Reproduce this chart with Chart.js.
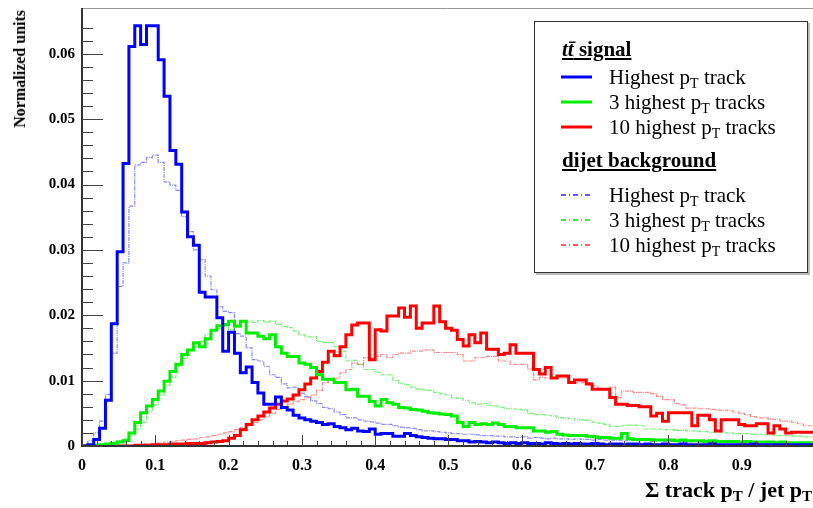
<!DOCTYPE html>
<html>
<head>
<meta charset="utf-8">
<script src="https://cdn.jsdelivr.net/npm/chart.js@4"></script>
<style>
  body { margin: 0; background: #fff; }
  #wrap { position: relative; width: 813px; height: 508px; overflow: hidden; font-family: 'Liberation Serif', 'Times New Roman', serif; color: #000; }
  #legend { position: absolute; left: 534px; top: 21px; width: 272px; height: 250px; border: 1px solid #333; box-shadow: 2px 2px 0 #bbb; background: #fff; }
  .row { position: absolute; left: 0; height: 24px; line-height: 24px; display: flex; align-items: center; font-size: 21px; white-space: nowrap; }
  .row svg { margin-left: 26px; margin-right: 17px; }
  .head { position: absolute; left: 27px; height: 24px; line-height: 24px; font-size: 21px; font-weight: bold; text-decoration: underline; white-space: nowrap; }
  sub { font-size: 14px; vertical-align: -4px; line-height: 0; }
  #xtitle { position: absolute; right: 1px; top: 477px; font-size: 22px; font-weight: bold; white-space: nowrap; }
  #xtitle sub { font-size: 15px; }
  #ytitle { position: absolute; left: 11px; top: 10px; font-size: 16px; font-weight: bold; writing-mode: vertical-rl; transform: rotate(180deg); white-space: nowrap; }
</style>
</head>
<body>
<div id="wrap">
  <canvas id="histChart" width="813" height="508"></canvas>
  <div id="legend"></div>
  <div id="xtitle">&Sigma; track p<sub>T</sub> / jet p<sub>T</sub></div>
  <div id="ytitle">Normalized units</div>
</div>
<script>
// bin width of the histograms (125 bins on 0..1)
const binWidth = 0.008;

const seriesLabels = ['Highest p_T track', '3 highest p_T tracks', '10 highest p_T tracks'];
const groupTitles = ['<i>tt&#772;</i> signal', 'dijet background'];

// ttbar signal
const sigTop1 = [
  0, 0.0002, 0.001, 0.0027, 0.007, 0.0187, 0.0297, 0.0432, 0.0611, 0.0643,
  0.0614, 0.0643, 0.0643, 0.0591, 0.0535, 0.0452, 0.0431, 0.0358, 0.032, 0.0307,
  0.0235, 0.0228, 0.0228, 0.0196, 0.0145, 0.0174, 0.0142, 0.0112, 0.0121, 0.0097,
  0.0081, 0.0064, 0.0064, 0.0075, 0.0059, 0.0055, 0.0047, 0.0043, 0.0040, 0.0038,
  0.0036, 0.0033, 0.0034, 0.0030, 0.0028, 0.0025, 0.0027, 0.0023, 0.0022, 0.0026,
  0.0018, 0.0019, 0.0019, 0.0015, 0.0015, 0.0019, 0.0016, 0.0014, 0.0013, 0.0012,
  0.0011, 0.0011, 0.0010, 0.0010, 0.0008, 0.0008, 0.0006, 0.0007, 0.0006, 0.0005,
  0.0006, 0.0005, 0.0004, 0.0005, 0.0004, 0.0005, 0.0004, 0.0004, 0.0003, 0.0005,
  0.0004, 0.0003, 0.0004, 0.0003, 0.0004, 0.0003, 0.0003, 0.0004, 0.0003, 0.0002,
  0.0003, 0.0003, 0.0002, 0.0003, 0.0003, 0.0002, 0.0003, 0.0002, 0.0002, 0.0003,
  0.0002, 0.0002, 0.0003, 0.0002, 0.0002, 0.0002, 0.0002, 0.0003, 0.0002, 0.0002,
  0.0002, 0.0002, 0.0002, 0.0002, 0.0003, 0.0002, 0.0002, 0.0002, 0.0002, 0.0002,
  0.0002, 0.0002, 0.0002, 0.0002, 0.0002
];
const sigTop3 = [
  0, 0, 0.0001, 0.0002, 0.0003, 0.0004, 0.0006, 0.0008, 0.0020, 0.0036,
  0.0051, 0.0061, 0.0071, 0.0084, 0.0099, 0.0114, 0.0125, 0.0140, 0.0147, 0.0158,
  0.0152, 0.0164, 0.0177, 0.0184, 0.0186, 0.0191, 0.0183, 0.0191, 0.0173, 0.0173,
  0.0168, 0.0164, 0.0170, 0.0152, 0.0142, 0.0137, 0.0137, 0.0127, 0.0125, 0.0120,
  0.0109, 0.0102, 0.0102, 0.0097, 0.0097, 0.0086, 0.0087, 0.0076, 0.0076, 0.0068,
  0.0061, 0.0071, 0.0066, 0.0064, 0.0059, 0.0058, 0.0056, 0.0055, 0.0053, 0.0051,
  0.0050, 0.0049, 0.0048, 0.0046, 0.0036, 0.0030, 0.0036, 0.0033, 0.0034, 0.0033,
  0.0035, 0.0033, 0.0030, 0.0030, 0.0028, 0.0028, 0.0028, 0.0023, 0.0023, 0.0021,
  0.0022, 0.0018, 0.0017, 0.0016, 0.0016, 0.0016, 0.0015, 0.0014, 0.0013, 0.0013,
  0.0012, 0.0012, 0.0019, 0.0011, 0.0010, 0.0010, 0.0010, 0.0009, 0.0009, 0.0009,
  0.0009, 0.0008, 0.0009, 0.0008, 0.0008, 0.0008, 0.0007, 0.0008, 0.0007, 0.0007,
  0.0007, 0.0007, 0.0006, 0.0007, 0.0006, 0.0006, 0.0006, 0.0006, 0.0005, 0.0006,
  0.0005, 0.0005, 0.0005, 0.0005, 0.0005
];
const sigTop10 = [
  0, 0, 0, 0, 0, 0, 0, 0, 0, 0.0001,
  0.0001, 0.0001, 0.0002, 0.0002, 0.0002, 0.0003, 0.0003, 0.0003, 0.0004, 0.0004,
  0.0004, 0.0005, 0.0006, 0.0007, 0.0008, 0.0012, 0.0016, 0.0025, 0.0033, 0.0040,
  0.0046, 0.0052, 0.0058, 0.0064, 0.0069, 0.0072, 0.0078, 0.0086, 0.0095, 0.0104,
  0.0114, 0.0128, 0.0145, 0.0138, 0.0152, 0.0170, 0.0185, 0.0188, 0.0188, 0.0132,
  0.0178, 0.0176, 0.0199, 0.0199, 0.0211, 0.0197, 0.0214, 0.0180, 0.0188, 0.0188,
  0.0214, 0.0190, 0.0180, 0.0177, 0.0163, 0.0153, 0.0170, 0.0158, 0.0173, 0.0148,
  0.0148, 0.0140, 0.0142, 0.0155, 0.0142, 0.0142, 0.0142, 0.0117, 0.0110, 0.0120,
  0.0104, 0.0107, 0.0107, 0.0097, 0.0101, 0.0101, 0.0095, 0.0087, 0.0087, 0.0087,
  0.0074, 0.0064, 0.0064, 0.0062, 0.0062, 0.0060, 0.0060, 0.0046, 0.0050, 0.0038,
  0.0051, 0.0051, 0.0051, 0.0051, 0.0031, 0.0047, 0.0047, 0.0040, 0.0023, 0.0040,
  0.0040, 0.0040, 0.0033, 0.0031, 0.0031, 0.0034, 0.0034, 0.0020, 0.0031, 0.0026,
  0.0020, 0.0021, 0.0021, 0.0021, 0.0021
];

// dijet background
const bkgTop1 = [
  0, 0.0008, 0.002, 0.0038, 0.0079, 0.0142, 0.0244, 0.028, 0.0367, 0.043,
  0.0434, 0.0441, 0.0445, 0.0434, 0.0404, 0.0399, 0.0391, 0.0351, 0.0328, 0.0300,
  0.0285, 0.0260, 0.0239, 0.0213, 0.0206, 0.0204, 0.0172, 0.0168, 0.0150, 0.0132,
  0.0130, 0.0122, 0.0109, 0.0105, 0.0095, 0.0089, 0.0090, 0.0081, 0.0076, 0.0069,
  0.0065, 0.0059, 0.0057, 0.0052, 0.0048, 0.0043, 0.0043, 0.0040, 0.0038, 0.0037,
  0.0035, 0.0033, 0.0033, 0.0031, 0.0029, 0.0028, 0.0027, 0.0025, 0.0023, 0.0023,
  0.0022, 0.0021, 0.0020, 0.0019, 0.0019, 0.0018, 0.0018, 0.0017, 0.0016, 0.0016,
  0.0015, 0.0015, 0.0014, 0.0014, 0.0013, 0.0014, 0.0012, 0.0013, 0.0012, 0.0011,
  0.0012, 0.0011, 0.0011, 0.0010, 0.0011, 0.0010, 0.0010, 0.0009, 0.0010, 0.0009,
  0.0009, 0.0009, 0.0008, 0.0009, 0.0008, 0.0008, 0.0008, 0.0007, 0.0008, 0.0007,
  0.0007, 0.0007, 0.0007, 0.0006, 0.0007, 0.0006, 0.0006, 0.0006, 0.0006, 0.0005,
  0.0006, 0.0005, 0.0005, 0.0005, 0.0005, 0.0005, 0.0004, 0.0005, 0.0004, 0.0004,
  0.0004, 0.0004, 0.0004, 0.0004, 0.0004
];
const bkgTop3 = [
  0, 0.0001, 0.0002, 0.0003, 0.0004, 0.0006, 0.0008, 0.0011, 0.0015, 0.0026,
  0.0036, 0.0052, 0.0063, 0.0078, 0.0093, 0.0105, 0.0122, 0.0134, 0.0146, 0.0152,
  0.0160, 0.0170, 0.0176, 0.0180, 0.0183, 0.0178, 0.0186, 0.0190, 0.0191, 0.0189,
  0.0192, 0.0190, 0.0191, 0.0186, 0.0183, 0.0181, 0.0176, 0.0170, 0.0167, 0.0167,
  0.0160, 0.0158, 0.0158, 0.0152, 0.0145, 0.0130, 0.0131, 0.0125, 0.0117, 0.0117,
  0.0113, 0.0109, 0.0109, 0.0100, 0.0096, 0.0094, 0.0090, 0.0087, 0.0086, 0.0085,
  0.0082, 0.0080, 0.0078, 0.0074, 0.0073, 0.0070, 0.0066, 0.0064, 0.0065, 0.0062,
  0.0061, 0.0059, 0.0057, 0.0057, 0.0056, 0.0055, 0.0050, 0.0048, 0.0048, 0.0047,
  0.0046, 0.0043, 0.0043, 0.0042, 0.0040, 0.0040, 0.0039, 0.0036, 0.0035, 0.0033,
  0.0030, 0.0030, 0.0031, 0.0032, 0.0032, 0.0031, 0.0026, 0.0026, 0.0026, 0.0025,
  0.0025, 0.0024, 0.0024, 0.0023, 0.0023, 0.0022, 0.0022, 0.0021, 0.0021, 0.0020,
  0.0020, 0.0019, 0.0019, 0.0019, 0.0018, 0.0018, 0.0017, 0.0017, 0.0016, 0.0016,
  0.0016, 0.0015, 0.0015, 0.0014, 0.0014
];
const bkgTop10 = [
  0, 0, 0, 0, 0, 0, 0, 0.0001, 0.0001, 0.0002,
  0.0003, 0.0003, 0.0004, 0.0005, 0.0006, 0.0007, 0.0008, 0.0009, 0.0010, 0.0011,
  0.0013, 0.0014, 0.0016, 0.0018, 0.0020, 0.0022, 0.0025, 0.0028, 0.0032, 0.0036,
  0.0040, 0.0045, 0.0050, 0.0056, 0.0060, 0.0064, 0.0068, 0.0071, 0.0074, 0.0078,
  0.0085, 0.0097, 0.0100, 0.0104, 0.0112, 0.0117, 0.0127, 0.0125, 0.0135, 0.0135,
  0.0137, 0.0140, 0.0135, 0.0140, 0.0142, 0.0142, 0.0145, 0.0145, 0.0147, 0.0147,
  0.0143, 0.0143, 0.0143, 0.0143, 0.0140, 0.0130, 0.0130, 0.0135, 0.0135, 0.0137,
  0.0137, 0.0130, 0.0130, 0.0125, 0.0125, 0.0125, 0.0118, 0.0101, 0.0105, 0.0104,
  0.0104, 0.0104, 0.0104, 0.0097, 0.0097, 0.0097, 0.0097, 0.0092, 0.0087, 0.0087,
  0.0090, 0.0074, 0.0084, 0.0084, 0.0082, 0.0082, 0.0082, 0.0080, 0.0076, 0.0071,
  0.0071, 0.0065, 0.0063, 0.0058, 0.0058, 0.0057, 0.0057, 0.0056, 0.0055, 0.0055,
  0.0054, 0.0052, 0.0050, 0.0048, 0.0045, 0.0043, 0.0043, 0.0041, 0.0041, 0.0038,
  0.0038, 0.0036, 0.0034, 0.0031, 0.0031
];

const yTickLabels = ['0', '0.01', '0.02', '0.03', '0.04', '0.05', '0.06'];
const xTickLabels = ['0', '0.1', '0.2', '0.3', '0.4', '0.5', '0.6', '0.7', '0.8', '0.9'];

// points at left bin edges, plus the right edge of the last bin
function toPoints(values) {
    const pts = values.map((v, i) => ({ x: i * binWidth, y: v }));
    pts.push({ x: values.length * binWidth, y: values[values.length - 1] });
    return pts;
}

function onGrid(v, step) {
    return Math.abs(v / step - Math.round(v / step)) < 1e-6;
}

function signalSet(label, values, color) {
    return { label: label, group: 0, data: toPoints(values), borderColor: color, borderWidth: 3,
             stepped: 'before', pointRadius: 0, fill: false, order: 0 };
}
function bkgSet(label, values, color) {
    return { label: label, group: 1, data: toPoints(values), borderColor: color, borderWidth: 1.2,
             borderDash: [4, 1, 1, 1], stepped: 'before', pointRadius: 0, fill: false, order: 1 };
}

// ROOT style frame with inner ticks
const frameTicks = {
    id: 'frameTicks',
    afterDatasetsDraw(chart) {
        const { ctx, chartArea: a } = chart;
        const xs = chart.scales.x, ys = chart.scales.y;
        ctx.save();
        ctx.strokeStyle = '#999';
        ctx.lineWidth = 1;
        ctx.beginPath();
        ctx.moveTo(a.left, a.top + 0.5);
        ctx.lineTo(a.right, a.top + 0.5);
        ctx.stroke();
        ctx.strokeStyle = '#333';
        ctx.lineWidth = 2;
        ctx.beginPath();
        ctx.moveTo(a.left, a.top);
        ctx.lineTo(a.left, a.bottom);
        ctx.lineTo(a.right, a.bottom);
        ctx.stroke();
        ctx.lineWidth = 1;
        ctx.strokeStyle = '#444';
        ctx.beginPath();
        xs.ticks.forEach(t => {
            const px = Math.round(xs.getPixelForValue(t.value)) + 0.5;
            const len = t.label ? 11 : 5;
            ctx.moveTo(px, a.bottom);
            ctx.lineTo(px, a.bottom - len);
        });
        ys.ticks.forEach(t => {
            const py = Math.round(ys.getPixelForValue(t.value)) + 0.5;
            const len = t.label ? 21 : 11;
            ctx.moveTo(a.left, py);
            ctx.lineTo(a.left + len, py);
        });
        ctx.stroke();
        ctx.restore();
    }
};

const ctx = document.getElementById('histChart').getContext('2d');
const chart = new Chart(ctx, {
    type: 'line',
    data: {
        datasets: [
            signalSet(seriesLabels[0], sigTop1, '#0000ff'),
            signalSet(seriesLabels[1], sigTop3, '#00ee00'),
            signalSet(seriesLabels[2], sigTop10, '#ff0000'),
            bkgSet(seriesLabels[0], bkgTop1, 'rgba(40, 40, 255, 0.55)'),
            bkgSet(seriesLabels[1], bkgTop3, 'rgba(0, 230, 0, 0.55)'),
            bkgSet(seriesLabels[2], bkgTop10, 'rgba(255, 40, 40, 0.55)')
        ]
    },
    options: {
        responsive: false,
        animation: false,
        devicePixelRatio: 1,
        events: [],
        layout: { padding: { top: 8, left: 0, right: 0, bottom: 0 } },
        plugins: { legend: { display: false }, tooltip: { enabled: false } },
        scales: {
            x: {
                type: 'linear',
                min: 0,
                max: 0.9973,
                afterFit: s => { s.height = 62; s.paddingLeft = 0; s.paddingRight = 0; },
                afterBuildTicks: s => { s.ticks = s.ticks.filter(t => onGrid(t.value, 0.02)); },
                grid: { display: false, drawTicks: false },
                border: { display: false },
                ticks: {
                    stepSize: 0.02,
                    autoSkip: false,
                    maxRotation: 0,
                    padding: 10,
                    color: '#000',
                    font: { family: "'Liberation Serif', 'Times New Roman', serif", size: 16, weight: 'bold' },
                    callback: v => onGrid(v, 0.1) ? xTickLabels[Math.round(v * 10)] : ''
                }
            },
            y: {
                type: 'linear',
                min: 0,
                max: 0.067,
                afterFit: s => { s.width = 82; s.paddingTop = 0; s.paddingBottom = 0; },
                afterBuildTicks: s => { s.ticks = s.ticks.filter(t => onGrid(t.value, 0.002)); },
                grid: { display: false, drawTicks: false },
                border: { display: false },
                ticks: {
                    stepSize: 0.002,
                    autoSkip: false,
                    padding: 7,
                    color: '#000',
                    font: { family: "'Liberation Serif', 'Times New Roman', serif", size: 15, weight: 'bold' },
                    callback: v => onGrid(v, 0.01) ? yTickLabels[Math.round(v * 100)] : ''
                }
            }
        }
    },
    plugins: [frameTicks]
});

// legend built from the datasets
const legendEl = document.getElementById('legend');
const headTops = [15, 126];
const rowTops = [[43, 68, 93], [161, 186, 211]];
groupTitles.forEach((title, g) => {
    const head = document.createElement('div');
    head.className = 'head';
    head.style.top = headTops[g] + 'px';
    head.innerHTML = title;
    legendEl.appendChild(head);
    chart.data.datasets.filter(ds => ds.group === g).forEach((ds, k) => {
        const row = document.createElement('div');
        row.className = 'row';
        row.style.top = rowTops[g][k] + 'px';
        const dash = ds.borderDash ? 'stroke-dasharray="5,3,1,3"' : '';
        const w = ds.borderDash ? 1.5 : 3;
        const col = ds.borderDash ? ds.borderColor.replace('0.55', '1') : ds.borderColor;
        row.innerHTML = '<svg width="31" height="8"><line x1="0" y1="4" x2="31" y2="4" stroke="' + col +
            '" stroke-width="' + w + '" ' + dash + '/></svg><span>' +
            ds.label.replace('p_T', 'p<sub>T</sub>') + '</span>';
        legendEl.appendChild(row);
    });
});
</script>
</body>
</html>
